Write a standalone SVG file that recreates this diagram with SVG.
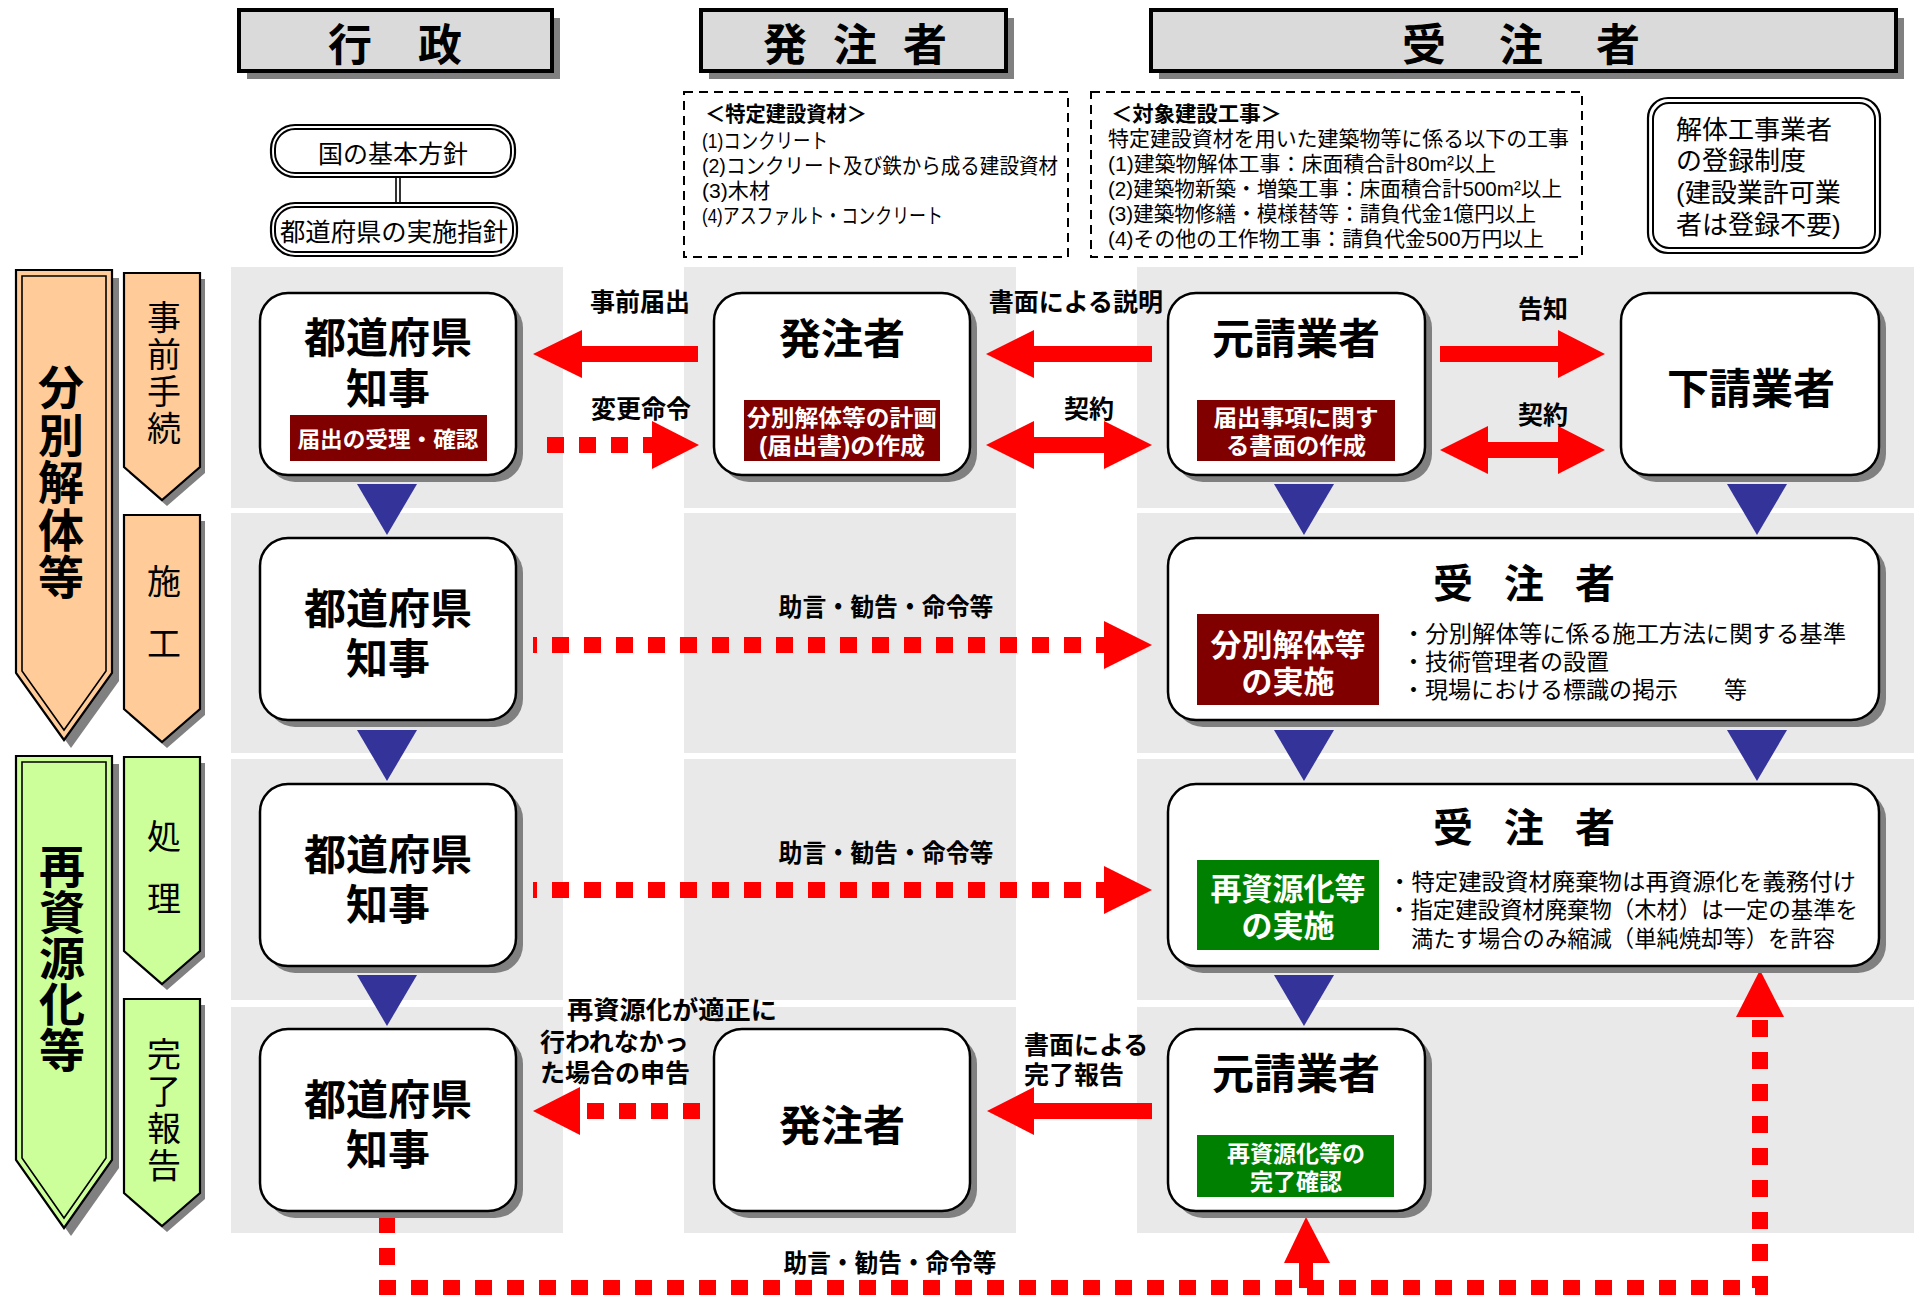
<svg xmlns="http://www.w3.org/2000/svg" width="1914" height="1295" viewBox="0 0 1914 1295">
<style>
.t{font-family:"Liberation Sans","Noto Sans CJK JP",sans-serif;fill:#000}
.b{font-weight:700}
.c{text-anchor:middle;dominant-baseline:central;transform:translateY(3px)}
.m{dominant-baseline:central;transform:translateY(3px)}
.v{writing-mode:vertical-rl;text-anchor:start;font-family:"Noto Sans CJK JP",sans-serif}
.w{fill:#fff}
.hdr{fill:#dadada;stroke:#000;stroke-width:4}
.sh{fill:#808080}
.node{fill:#fff;stroke:#000;stroke-width:2.5}
.bg{fill:#e9e9e9}
.red{fill:#f00}
.dot{stroke:#f00;stroke-width:16;stroke-dasharray:17 15;fill:none}
.tri{fill:#333399}
.dash{fill:none;stroke:#000;stroke-width:2;stroke-dasharray:9 6}
.dbl{fill:#fff;stroke:#000;stroke-width:2.2}
.dbli{fill:none;stroke:#000;stroke-width:2}
.lr{fill:#800000}
.lg{fill:#008000}
.peach{fill:#ffcc99;stroke:#000;stroke-width:2.2}
.lime{fill:#ccff99;stroke:#000;stroke-width:2.2}
.inner{fill:none;stroke:#000;stroke-width:1.6}
</style>
<rect width="1914" height="1295" fill="#fff"/>

<!-- background bands -->
<g id="bands">
<rect class="bg" x="231" y="267" width="332" height="241"/>
<rect class="bg" x="684" y="267" width="332" height="241"/>
<rect class="bg" x="1137" y="267" width="777" height="241"/>
<rect class="bg" x="231" y="513" width="332" height="240"/>
<rect class="bg" x="684" y="513" width="332" height="240"/>
<rect class="bg" x="1137" y="513" width="777" height="240"/>
<rect class="bg" x="231" y="759" width="332" height="241"/>
<rect class="bg" x="684" y="759" width="332" height="241"/>
<rect class="bg" x="1137" y="759" width="777" height="241"/>
<rect class="bg" x="231" y="1007" width="332" height="226"/>
<rect class="bg" x="684" y="1007" width="332" height="226"/>
<rect class="bg" x="1137" y="1007" width="777" height="226"/>
</g>

<!-- headers -->
<g id="hdr-gyosei">
<rect class="sh" x="247" y="18" width="313" height="61"/>
<rect class="hdr" x="239" y="10" width="313" height="61"/>
<text class="t b m" x="328" y="42" font-size="44" letter-spacing="46">行政</text>
</g>
<g id="hdr-hatchusha">
<rect class="sh" x="709" y="18" width="305" height="61"/>
<rect class="hdr" x="701" y="10" width="305" height="61"/>
<text class="t b m" x="763" y="42" font-size="44" letter-spacing="26">発注者</text>
</g>
<g id="hdr-juchusha">
<rect class="sh" x="1159" y="18" width="745" height="61"/>
<rect class="hdr" x="1151" y="10" width="745" height="61"/>
<text class="t b m" x="1402" y="42" font-size="44" letter-spacing="53">受注者</text>
</g>

<!-- policy pills -->
<g id="kuni">
<rect class="dbl" x="271" y="125" width="244" height="52" rx="24"/>
<rect class="dbli" x="275" y="129" width="236" height="44" rx="20"/>
<text class="t c" x="393" y="151" font-size="25">国の基本方針</text>
</g>
<g id="todofuken-shishin">
<rect class="dbl" x="271" y="203" width="246" height="53" rx="24"/>
<rect class="dbli" x="275" y="207" width="238" height="45" rx="20"/>
<text class="t c" x="394" y="229" font-size="25" textLength="228" lengthAdjust="spacingAndGlyphs">都道府県の実施指針</text>
</g>

<!-- dashed boxes -->
<g id="tokutei">
<rect class="dash" x="684" y="92" width="384" height="165"/>
<text class="t m" font-size="21"><tspan class="b" x="705" y="110" textLength="162" lengthAdjust="spacingAndGlyphs">＜特定建設資材＞</tspan><tspan x="702" y="137" textLength="126" lengthAdjust="spacingAndGlyphs">(1)コンクリート</tspan><tspan x="702" y="162" textLength="356" lengthAdjust="spacingAndGlyphs">(2)コンクリート及び鉄から成る建設資材</tspan><tspan x="702" y="187" textLength="68" lengthAdjust="spacingAndGlyphs">(3)木材</tspan><tspan x="702" y="212" textLength="241" lengthAdjust="spacingAndGlyphs">(4)アスファルト・コンクリート</tspan></text>
</g>
<g id="taisho">
<rect class="dash" x="1091" y="92" width="491" height="165"/>
<text class="t m" font-size="21"><tspan class="b" x="1111" y="110" textLength="171" lengthAdjust="spacingAndGlyphs">＜対象建設工事＞</tspan><tspan x="1108" y="135" textLength="461" lengthAdjust="spacingAndGlyphs">特定建設資材を用いた建築物等に係る以下の工事</tspan><tspan x="1108" y="160" textLength="388" lengthAdjust="spacingAndGlyphs">(1)建築物解体工事：床面積合計80m²以上</tspan><tspan x="1108" y="185" textLength="454" lengthAdjust="spacingAndGlyphs">(2)建築物新築・増築工事：床面積合計500m²以上</tspan><tspan x="1108" y="210" textLength="428" lengthAdjust="spacingAndGlyphs">(3)建築物修繕・模様替等：請負代金1億円以上</tspan><tspan x="1108" y="235" textLength="436" lengthAdjust="spacingAndGlyphs">(4)その他の工作物工事：請負代金500万円以上</tspan></text>
</g>
<g id="kaitai-toroku">
<rect class="dbl" x="1648" y="98" width="232" height="155" rx="20"/>
<rect class="dbli" x="1653" y="103" width="222" height="145" rx="16"/>
<text class="t m" font-size="26"><tspan x="1676" y="127">解体工事業者</tspan><tspan x="1676" y="158">の登録制度</tspan><tspan x="1676" y="190">(建設業許可業</tspan><tspan x="1676" y="222">者は登録不要)</tspan></text>
</g>

<!-- left phase arrows -->
<g id="phase-bunbetsu">
<polygon class="sh" points="23,278 119,278 119,681 71,748 23,681"/>
<polygon class="peach" points="16,270 112,270 112,673 64,740 16,673"/>
<polygon class="inner" points="22,276 106,276 106,671 64,730 22,671"/>
<text class="t b v" x="61" y="364" font-size="46" letter-spacing="1.5">分別解体等</text>
</g>
<g id="phase-saishigen">
<polygon class="sh" points="23,764 119,764 119,1168 71,1236 23,1168"/>
<polygon class="lime" points="16,756 112,756 112,1160 64,1228 16,1160"/>
<polygon class="inner" points="22,762 106,762 106,1158 64,1218 22,1158"/>
<text class="t b v" x="62" y="843" font-size="46">再資源化等</text>
</g>
<g id="step-jizen">
<polygon class="sh" points="129,279 205,279 205,473 167,506 129,473"/>
<polygon class="peach" points="124,273 200,273 200,467 162,500 124,467"/>
<text class="t v" x="164" y="300" font-size="34" letter-spacing="3">事前手続</text>
</g>
<g id="step-seko">
<polygon class="sh" points="129,521 205,521 205,715 167,748 129,715"/>
<polygon class="peach" points="124,515 200,515 200,709 162,742 124,709"/>
<text class="t v" x="164" y="564" font-size="34" letter-spacing="28">施工</text>
</g>
<g id="step-shori">
<polygon class="sh" points="129,763 205,763 205,957 167,990 129,957"/>
<polygon class="lime" points="124,757 200,757 200,951 162,984 124,951"/>
<text class="t v" x="164" y="819" font-size="34" letter-spacing="28">処理</text>
</g>
<g id="step-kanryo">
<polygon class="sh" points="129,1005 205,1005 205,1199 167,1232 129,1199"/>
<polygon class="lime" points="124,999 200,999 200,1193 162,1226 124,1193"/>
<text class="t v" x="164" y="1037" font-size="34" letter-spacing="3">完了報告</text>
</g>

<!-- connectors -->
<g id="connectors">
<line x1="396" y1="177" x2="396" y2="203" stroke="#000" stroke-width="1.6"/>
<line x1="400" y1="177" x2="400" y2="203" stroke="#000" stroke-width="1.6"/>
<polygon class="tri" points="357,484 417,484 387,535"/>
<polygon class="tri" points="357,730 417,730 387,781"/>
<polygon class="tri" points="357,975 417,975 387,1026"/>
<polygon class="tri" points="1274,484 1334,484 1304,535"/>
<polygon class="tri" points="1274,730 1334,730 1304,781"/>
<polygon class="tri" points="1274,975 1334,975 1304,1026"/>
<polygon class="tri" points="1727,484 1787,484 1757,535"/>
<polygon class="tri" points="1727,730 1787,730 1757,781"/>
<polygon class="red" points="533,354 582,330 582,346 698,346 698,362 582,362 582,378"/>
<line class="dot" x1="547" y1="445" x2="654" y2="445"/>
<polygon class="red" points="652,421 699,445 652,469"/>
<polygon class="red" points="986,354 1034,330 1034,346 1152,346 1152,362 1034,362 1034,378"/>
<polygon class="red" points="986,445 1034,421 1034,437 1104,437 1104,421 1152,445 1104,469 1104,453 1034,453 1034,469"/>
<polygon class="red" points="1605,354 1558,330 1558,346 1440,346 1440,362 1558,362 1558,378"/>
<polygon class="red" points="1440,450 1488,426 1488,442 1558,442 1558,426 1605,450 1558,474 1558,458 1488,458 1488,474"/>
<line class="dot" x1="533" y1="645" x2="1106" y2="645" stroke-dashoffset="13"/>
<polygon class="red" points="1104,621 1152,645 1104,669"/>
<line class="dot" x1="533" y1="890" x2="1106" y2="890" stroke-dashoffset="13"/>
<polygon class="red" points="1104,866 1152,890 1104,914"/>
<polygon class="red" points="533,1111 580,1087 580,1135"/>
<line class="dot" x1="587" y1="1111" x2="700" y2="1111"/>
<polygon class="red" points="987,1111 1034,1087 1034,1103 1152,1103 1152,1119 1034,1119 1034,1135"/>
<path class="dot" d="M387,1216 V1288 H1760 V1015"/>
<polygon class="red" points="1736,1017 1760,970 1784,1017"/>
<line x1="1306" y1="1288" x2="1306" y2="1260" stroke="#f00" stroke-width="14"/>
<polygon class="red" points="1284,1263 1306,1217 1330,1263"/>
</g>

<!-- row 1 nodes -->
<g id="chiji-1">
<rect class="sh" x="267" y="300" width="256" height="182" rx="28"/>
<rect class="node" x="260" y="293" width="256" height="182" rx="28"/>
<text class="t b c" font-size="42"><tspan x="388" y="335">都道府県</tspan><tspan x="388" y="386">知事</tspan></text>
<rect class="lr" x="290" y="415" width="197" height="46"/>
<text class="t b c w" x="388" y="436" font-size="22" textLength="181" lengthAdjust="spacingAndGlyphs">届出の受理・確認</text>
</g>
<g id="hatchusha-1">
<rect class="sh" x="721" y="300" width="256" height="182" rx="28"/>
<rect class="node" x="714" y="293" width="256" height="182" rx="28"/>
<text class="t b c" x="842" y="336" font-size="42">発注者</text>
<rect class="lr" x="744" y="400" width="196" height="61"/>
<text class="t b c w" font-size="23"><tspan x="842" y="415" textLength="190" lengthAdjust="spacingAndGlyphs">分別解体等の計画</tspan><tspan x="842" y="443" textLength="166" lengthAdjust="spacingAndGlyphs">(届出書)の作成</tspan></text>
</g>
<g id="motouke-1">
<rect class="sh" x="1175" y="300" width="257" height="182" rx="28"/>
<rect class="node" x="1168" y="293" width="257" height="182" rx="28"/>
<text class="t b c" x="1296" y="336" font-size="42">元請業者</text>
<rect class="lr" x="1197" y="400" width="198" height="61"/>
<text class="t b c w" font-size="23"><tspan x="1296" y="415" textLength="165" lengthAdjust="spacingAndGlyphs">届出事項に関す</tspan><tspan x="1296" y="443" textLength="140" lengthAdjust="spacingAndGlyphs">る書面の作成</tspan></text>
</g>
<g id="shitauke-1">
<rect class="sh" x="1628" y="300" width="258" height="182" rx="28"/>
<rect class="node" x="1621" y="293" width="258" height="182" rx="28"/>
<text class="t b c" x="1751" y="386" font-size="42">下請業者</text>
</g>

<!-- row 2 nodes -->
<g id="chiji-2">
<rect class="sh" x="267" y="545" width="256" height="182" rx="28"/>
<rect class="node" x="260" y="538" width="256" height="182" rx="28"/>
<text class="t b c" font-size="42"><tspan x="388" y="606">都道府県</tspan><tspan x="388" y="656">知事</tspan></text>
</g>
<g id="juchusha-2">
<rect class="sh" x="1175" y="545" width="711" height="182" rx="28"/>
<rect class="node" x="1168" y="538" width="711" height="182" rx="28"/>
<text class="t b m" x="1433" y="581" font-size="40" letter-spacing="31">受注者</text>
<rect class="lr" x="1197" y="614" width="182" height="91"/>
<text class="t b c w" font-size="31"><tspan x="1288" y="642">分別解体等</tspan><tspan x="1288" y="679">の実施</tspan></text>
<text class="t m" font-size="23"><tspan x="1402" y="631" textLength="444" lengthAdjust="spacingAndGlyphs">・分別解体等に係る施工方法に関する基準</tspan><tspan x="1402" y="659">・技術管理者の設置</tspan><tspan x="1402" y="687">・現場における標識の掲示　　等</tspan></text>
</g>

<!-- row 3 nodes -->
<g id="chiji-3">
<rect class="sh" x="267" y="791" width="256" height="182" rx="28"/>
<rect class="node" x="260" y="784" width="256" height="182" rx="28"/>
<text class="t b c" font-size="42"><tspan x="388" y="852">都道府県</tspan><tspan x="388" y="902">知事</tspan></text>
</g>
<g id="juchusha-3">
<rect class="sh" x="1175" y="791" width="711" height="182" rx="28"/>
<rect class="node" x="1168" y="784" width="711" height="182" rx="28"/>
<text class="t b m" x="1433" y="825" font-size="40" letter-spacing="31">受注者</text>
<rect class="lg" x="1197" y="860" width="182" height="90"/>
<text class="t b c w" font-size="31"><tspan x="1288" y="886">再資源化等</tspan><tspan x="1288" y="923">の実施</tspan></text>
<text class="t m" font-size="23"><tspan x="1388" y="879" textLength="468" lengthAdjust="spacingAndGlyphs">・特定建設資材廃棄物は再資源化を義務付け</tspan><tspan x="1388" y="907" textLength="470" lengthAdjust="spacingAndGlyphs">・指定建設資材廃棄物（木材）は一定の基準を</tspan><tspan x="1411" y="936" textLength="424" lengthAdjust="spacingAndGlyphs">満たす場合のみ縮減（単純焼却等）を許容</tspan></text>
</g>

<!-- row 4 nodes -->
<g id="chiji-4">
<rect class="sh" x="267" y="1036" width="256" height="182" rx="28"/>
<rect class="node" x="260" y="1029" width="256" height="182" rx="28"/>
<text class="t b c" font-size="42"><tspan x="388" y="1097">都道府県</tspan><tspan x="388" y="1147">知事</tspan></text>
</g>
<g id="hatchusha-4">
<rect class="sh" x="721" y="1036" width="256" height="182" rx="28"/>
<rect class="node" x="714" y="1029" width="256" height="182" rx="28"/>
<text class="t b c" x="842" y="1123" font-size="42">発注者</text>
</g>
<g id="motouke-4">
<rect class="sh" x="1175" y="1036" width="257" height="182" rx="28"/>
<rect class="node" x="1168" y="1029" width="257" height="182" rx="28"/>
<text class="t b c" x="1296" y="1071" font-size="42">元請業者</text>
<rect class="lg" x="1197" y="1135" width="197" height="62"/>
<text class="t b c w" font-size="23"><tspan x="1296" y="1151">再資源化等の</tspan><tspan x="1296" y="1179">完了確認</tspan></text>
</g>

<!-- connector labels -->
<g id="labels">
<text class="t b c" x="640" y="299" font-size="25">事前届出</text>
<text class="t b c" x="641" y="406" font-size="25">変更命令</text>
<text class="t b c" x="1076" y="299" font-size="25">書面による説明</text>
<text class="t b c" x="1089" y="406" font-size="25">契約</text>
<text class="t b c" x="1543" y="306" font-size="25">告知</text>
<text class="t b c" x="1543" y="412" font-size="25">契約</text>
<text class="t b c" x="886" y="604" font-size="25" textLength="215" lengthAdjust="spacingAndGlyphs">助言・勧告・命令等</text>
<text class="t b c" x="886" y="850" font-size="25" textLength="215" lengthAdjust="spacingAndGlyphs">助言・勧告・命令等</text>
<text class="t b m" font-size="25"><tspan x="567" y="1007" textLength="210" lengthAdjust="spacingAndGlyphs">再資源化が適正に</tspan><tspan x="540" y="1039">行われなかっ</tspan><tspan x="540" y="1070">た場合の申告</tspan></text>
<text class="t b m" font-size="25"><tspan x="1024" y="1042">書面による</tspan><tspan x="1024" y="1072">完了報告</tspan></text>
<text class="t b c" x="890" y="1260" font-size="25" textLength="213" lengthAdjust="spacingAndGlyphs">助言・勧告・命令等</text>
</g>
</svg>
